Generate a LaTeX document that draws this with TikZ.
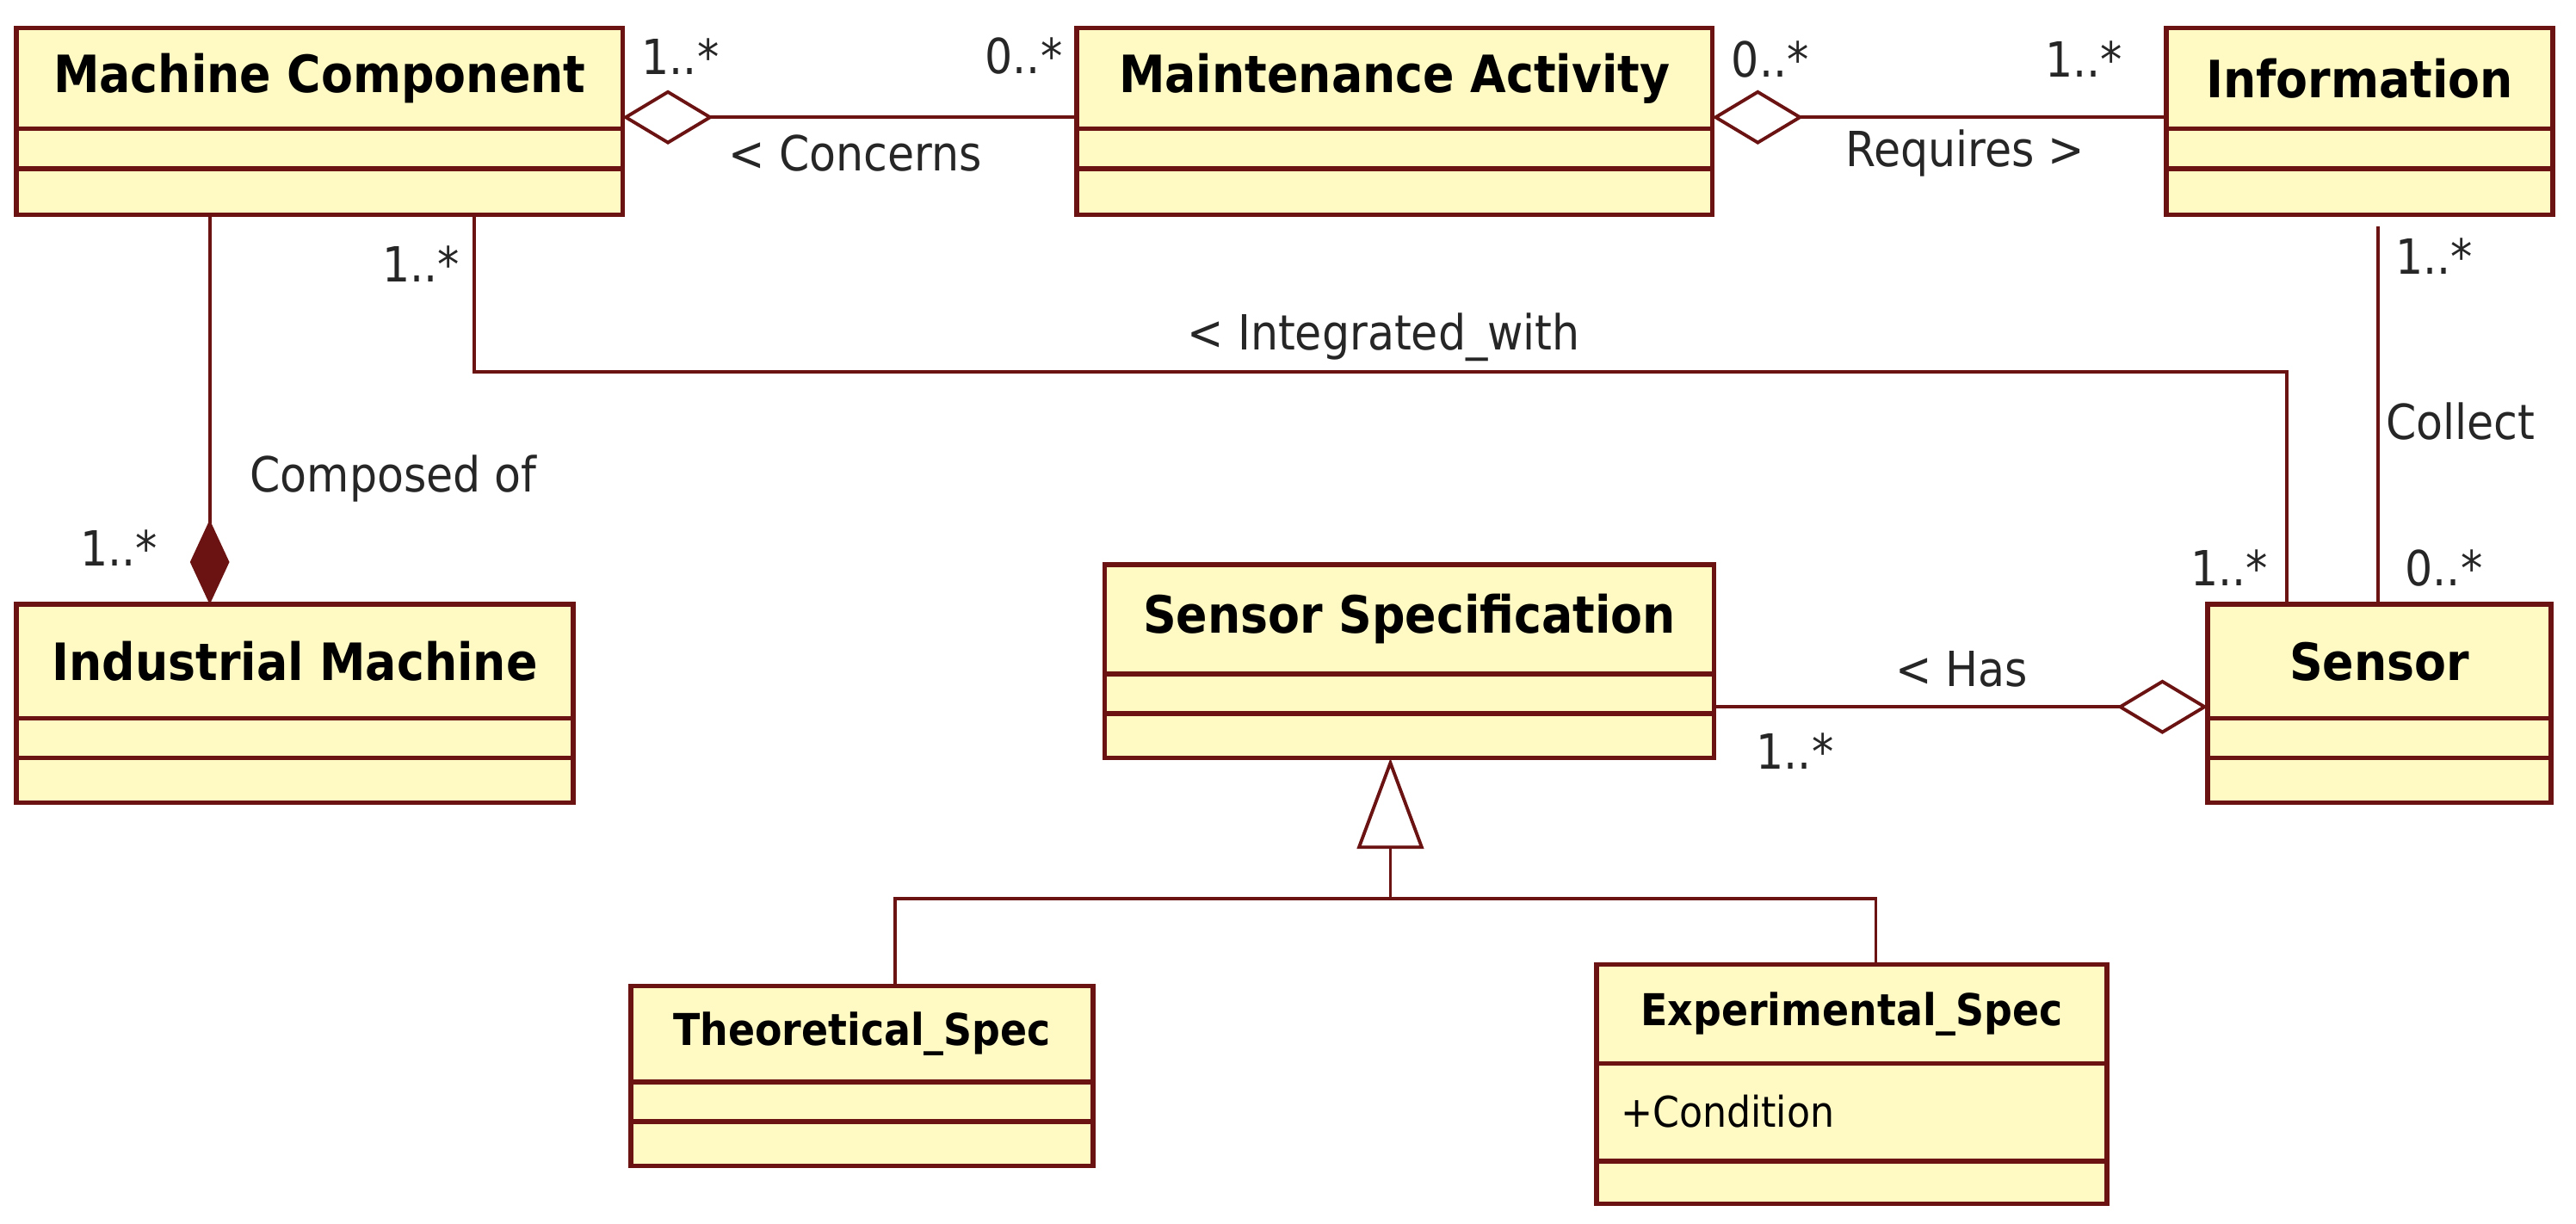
\documentclass[tikz,border=0pt]{standalone}
\usepackage{fontspec}
\setmainfont{DejaVu Sans Condensed}
\usetikzlibrary{fit,arrows.meta}
\definecolor{bd}{HTML}{6B1212}
\definecolor{fl}{HTML}{FFF9C4}
\tikzset{
 box/.style={draw=bd,fill=fl,line width=1.6pt,inner sep=0pt,outer sep=0pt},
 cmp/.style={draw=bd,line width=1.6pt},
 ttl/.style={font=\fontsize{17}{20}\selectfont\bfseries,text=black},
 sttl/.style={font=\fontsize{14.5}{17}\selectfont\bfseries,text=black},
 lbl/.style={font=\fontsize{16}{19}\selectfont,text=black!85},
 conn/.style={draw=bd,line width=1.1pt}
}
% name x1 y1 x2 y2 line1 line2 title style
\newcommand{\umlbox}[9]{%
 \node[box,fit={(#2,#3)(#4,#5)}] (#1) {};
 \draw[cmp] (#2,#6) -- (#4,#6);
 \draw[cmp] (#2,#7) -- (#4,#7);
 \node[#9] (#1t) at ({(#2+#4)/2},{(#3+#6)/2}) {#8};
}
\begin{document}
\begin{tikzpicture}[x=0.019186cm,y=-0.019186cm]
\useasboundingbox (0,0) rectangle (1560,741);
\umlbox{mc}{10}{17}{377}{130}{78}{102}{Machine Component}{ttl}
\umlbox{ma}{652}{17}{1037}{130}{78}{102}{Maintenance Activity}{ttl}
\umlbox{inf}{1312}{17}{1546}{130}{78}{102}{Information}{ttl}
\umlbox{im}{10}{366}{347}{486}{435}{459}{Industrial Machine}{ttl}
\umlbox{ss}{669}{342}{1038}{459}{408}{432}{Sensor Specification}{ttl}
\umlbox{sen}{1337}{366}{1545}{486}{435}{459}{Sensor}{ttl}
\umlbox{ts}{382}{597}{662}{706}{655}{679}{Theoretical\_Spec}{sttl}
\umlbox{es}{967}{584}{1276}{729}{644}{703}{Experimental\_Spec}{sttl}
\node[font=\fontsize{14}{17}\selectfont,anchor=west] (cond) at (975,673) {+Condition};

% Concerns
\draw[conn,{Diamond[open,fill=white,length=30pt,width=18pt]}-] (mc.east |- 0,71) -- (ma.west |- 0,71);
\node[lbl] at (412,34) {1..*};
\node[lbl] at (620,34) {0..*};
\node[lbl] at (518,93) {< Concerns};
% Requires
\draw[conn,{Diamond[open,fill=white,length=30pt,width=18pt]}-] (ma.east |- 0,71) -- (inf.west |- 0,71);
\node[lbl] at (1072,36) {0..*};
\node[lbl] at (1262,36) {1..*};
\node[lbl] at (1190,93) {Requires >};
% Composed
\draw[conn,{Diamond[fill=bd,length=28pt,width=13pt]}-] (im.north -| 127,0) -- (mc.south -| 127,0);
\node[lbl] at (72,332) {1..*};
\node[lbl,anchor=west] at (145,290) {Composed of};
% Integrated
\coordinate (i1) at (287,225);
\coordinate (i2) at (1385,225);
\draw[conn] (mc.south -| i1) -- (i1) -- (i2) -- (sen.north -| i2);
\node[lbl] at (255,160) {1..*};
\node[lbl] at (838,204) {< Integrated\_with};
\node[lbl] at (1350,344) {1..*};
% Collect
\coordinate (c1) at (1440,137);
\draw[conn] (c1) -- (sen.north -| c1);
\node[lbl] at (1474,155) {1..*};
\node[lbl] at (1490,255) {Collect};
\node[lbl] at (1480,344) {0..*};
% Has
\draw[conn,{Diamond[open,fill=white,length=30pt,width=18pt]}-] (sen.west |- 0,428) -- (ss.east |- 0,428);
\node[lbl] at (1188,405) {< Has};
\node[lbl] at (1087,455) {1..*};
% Generalization
\coordinate (g0) at (842,544);
\coordinate (gl) at (542,544);
\coordinate (gr) at (1136,544);
\draw[conn,{Triangle[open,fill=white,length=30pt,width=22pt]}-] (ss.south -| g0) -- (g0);
\draw[conn] (ts.north -| gl) -- (gl) -- (gr) -- (es.north -| gr);
\end{tikzpicture}
\end{document}
